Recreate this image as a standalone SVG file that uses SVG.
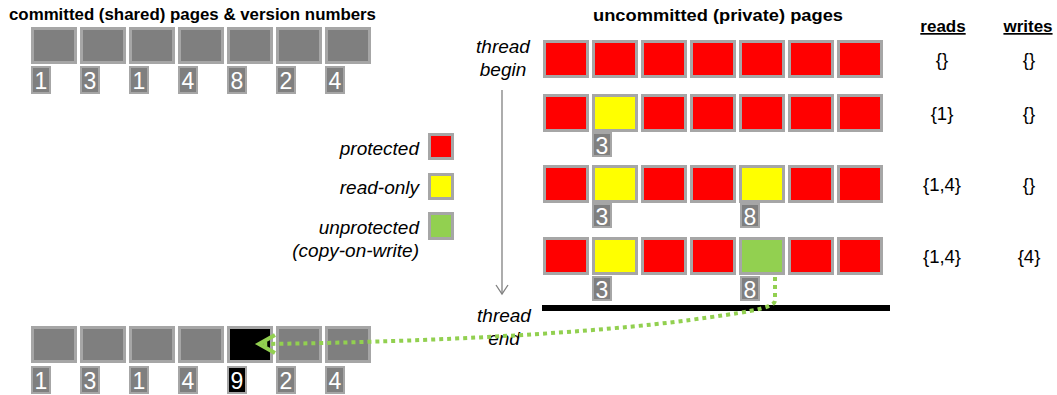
<svg xmlns="http://www.w3.org/2000/svg" width="1057" height="395" viewBox="0 0 1057 395">
<style>
.pg{stroke:#a6a6a6;stroke-width:3}
.gy{fill:#7f7f7f}.rd{fill:#ff0000}.yl{fill:#ffff00}.gn{fill:#92d050}.bk{fill:#000}
.tag{stroke:#a6a6a6;stroke-width:2}
.num{font-family:"Liberation Sans",Arial,sans-serif;font-size:23px;fill:#fff;text-anchor:middle}
.ttl{font-family:"Liberation Sans",Arial,sans-serif;font-weight:bold;font-size:17px;fill:#000}
.it{font-family:"Liberation Sans",Arial,sans-serif;font-style:italic;font-size:19px;fill:#000}
.set{font-family:"Liberation Sans",Arial,sans-serif;font-size:18.5px;fill:#000;text-anchor:middle}
</style>
<rect width="1057" height="395" fill="#fff"/>

<g id="titles">
<text class="ttl" x="9" y="20" textLength="367" lengthAdjust="spacingAndGlyphs">committed (shared) pages &amp; version numbers</text>
<text class="ttl" x="593" y="21" textLength="250" lengthAdjust="spacingAndGlyphs">uncommitted (private) pages</text>
<text class="ttl" x="943" y="32" text-anchor="middle" text-decoration="underline">reads</text>
<text class="ttl" x="1028" y="32" text-anchor="middle" text-decoration="underline">writes</text>
</g>

<g id="committed-before">
<rect class="pg gy" x="32.5" y="28.5" width="43" height="34"/>
<rect class="pg gy" x="81.5" y="28.5" width="43" height="34"/>
<rect class="pg gy" x="130.5" y="28.5" width="43" height="34"/>
<rect class="pg gy" x="179.5" y="28.5" width="43" height="34"/>
<rect class="pg gy" x="228.5" y="28.5" width="43" height="34"/>
<rect class="pg gy" x="277.5" y="28.5" width="43" height="34"/>
<rect class="pg gy" x="326.5" y="28.5" width="43" height="34"/>
<rect class="tag gy" x="32" y="67" width="18" height="26"/>
<rect class="tag gy" x="81" y="67" width="18" height="26"/>
<rect class="tag gy" x="130" y="67" width="18" height="26"/>
<rect class="tag gy" x="179" y="67" width="18" height="26"/>
<rect class="tag gy" x="228" y="67" width="18" height="26"/>
<rect class="tag gy" x="277" y="67" width="18" height="26"/>
<rect class="tag gy" x="326" y="67" width="18" height="26"/>
<text class="num" x="41" y="89">1</text>
<text class="num" x="90" y="89">3</text>
<text class="num" x="139" y="89">1</text>
<text class="num" x="188" y="89">4</text>
<text class="num" x="237" y="89">8</text>
<text class="num" x="286" y="89">2</text>
<text class="num" x="335" y="89">4</text>
</g>

<g id="committed-after">
<rect class="pg gy" x="32.5" y="327.5" width="43" height="34"/>
<rect class="pg gy" x="81.5" y="327.5" width="43" height="34"/>
<rect class="pg gy" x="130.5" y="327.5" width="43" height="34"/>
<rect class="pg gy" x="179.5" y="327.5" width="43" height="34"/>
<rect class="pg bk" x="228.5" y="327.5" width="43" height="34"/>
<rect class="pg gy" x="277.5" y="327.5" width="43" height="34"/>
<rect class="pg gy" x="326.5" y="327.5" width="43" height="34"/>
<rect class="tag gy" x="32" y="367" width="18" height="26"/>
<rect class="tag gy" x="81" y="367" width="18" height="26"/>
<rect class="tag gy" x="130" y="367" width="18" height="26"/>
<rect class="tag gy" x="179" y="367" width="18" height="26"/>
<rect class="tag bk" x="228" y="367" width="18" height="26"/>
<rect class="tag gy" x="277" y="367" width="18" height="26"/>
<rect class="tag gy" x="326" y="367" width="18" height="26"/>
<text class="num" x="41" y="389">1</text>
<text class="num" x="90" y="389">3</text>
<text class="num" x="139" y="389">1</text>
<text class="num" x="188" y="389">4</text>
<text class="num" x="237" y="389">9</text>
<text class="num" x="286" y="389">2</text>
<text class="num" x="335" y="389">4</text>
</g>

<g id="row1">
<rect class="pg rd" x="544.5" y="41.5" width="43" height="35"/>
<rect class="pg rd" x="593.5" y="41.5" width="43" height="35"/>
<rect class="pg rd" x="642.5" y="41.5" width="43" height="35"/>
<rect class="pg rd" x="691.5" y="41.5" width="43" height="35"/>
<rect class="pg rd" x="740.5" y="41.5" width="43" height="35"/>
<rect class="pg rd" x="789.5" y="41.5" width="43" height="35"/>
<rect class="pg rd" x="838.5" y="41.5" width="43" height="35"/>
<text class="set" x="942" y="66">{}</text>
<text class="set" x="1029" y="66">{}</text>
</g>

<g id="row2">
<rect class="pg rd" x="544.5" y="95.5" width="43" height="35"/>
<rect class="pg yl" x="593.5" y="95.5" width="43" height="35"/>
<rect class="pg rd" x="642.5" y="95.5" width="43" height="35"/>
<rect class="pg rd" x="691.5" y="95.5" width="43" height="35"/>
<rect class="pg rd" x="740.5" y="95.5" width="43" height="35"/>
<rect class="pg rd" x="789.5" y="95.5" width="43" height="35"/>
<rect class="pg rd" x="838.5" y="95.5" width="43" height="35"/>
<rect class="tag gy" x="593" y="133" width="18" height="23"/>
<text class="num" x="602" y="154">3</text>
<text class="set" x="942" y="120">{1}</text>
<text class="set" x="1029" y="120">{}</text>
</g>

<g id="row3">
<rect class="pg rd" x="544.5" y="166.5" width="43" height="35"/>
<rect class="pg yl" x="593.5" y="166.5" width="43" height="35"/>
<rect class="pg rd" x="642.5" y="166.5" width="43" height="35"/>
<rect class="pg rd" x="691.5" y="166.5" width="43" height="35"/>
<rect class="pg yl" x="740.5" y="166.5" width="43" height="35"/>
<rect class="pg rd" x="789.5" y="166.5" width="43" height="35"/>
<rect class="pg rd" x="838.5" y="166.5" width="43" height="35"/>
<rect class="tag gy" x="593" y="204" width="18" height="23"/>
<rect class="tag gy" x="741" y="204" width="18" height="23"/>
<text class="num" x="602" y="225">3</text>
<text class="num" x="750" y="225">8</text>
<text class="set" x="942" y="191">{1,4}</text>
<text class="set" x="1029" y="191">{}</text>
</g>

<g id="row4">
<rect class="pg rd" x="544.5" y="238.5" width="43" height="35"/>
<rect class="pg yl" x="593.5" y="238.5" width="43" height="35"/>
<rect class="pg rd" x="642.5" y="238.5" width="43" height="35"/>
<rect class="pg rd" x="691.5" y="238.5" width="43" height="35"/>
<rect class="pg gn" x="740.5" y="238.5" width="43" height="35"/>
<rect class="pg rd" x="789.5" y="238.5" width="43" height="35"/>
<rect class="pg rd" x="838.5" y="238.5" width="43" height="35"/>
<rect class="tag gy" x="593" y="277" width="18" height="23"/>
<rect class="tag gy" x="741" y="277" width="18" height="23"/>
<text class="num" x="602" y="298">3</text>
<text class="num" x="750" y="298">8</text>
<text class="set" x="942" y="263">{1,4}</text>
<text class="set" x="1029" y="263">{4}</text>
</g>

<g id="legend">
<text class="it" x="419" y="155" text-anchor="end">protected</text>
<text class="it" x="419" y="194" text-anchor="end">read-only</text>
<text class="it" x="419" y="234" text-anchor="end">unprotected</text>
<text class="it" x="419" y="257" text-anchor="end">(copy-on-write)</text>
<rect class="pg rd" x="429.5" y="134.5" width="23" height="24"/>
<rect class="pg yl" x="429.5" y="174.5" width="23" height="24"/>
<rect class="pg gn" x="429.5" y="213.5" width="23" height="25"/>
</g>

<g id="thread-labels">
<text class="it" x="503" y="53" text-anchor="middle">thread</text>
<text class="it" x="503" y="76" text-anchor="middle">begin</text>
<text class="it" x="504" y="322" text-anchor="middle">thread</text>
<text class="it" x="504" y="345" text-anchor="middle">end</text>
</g>

<g id="connectors">
<line x1="502" y1="90" x2="502" y2="294" stroke="#808080" stroke-width="1.3"/>
<polyline points="496,285 502,294 508,285" fill="none" stroke="#808080" stroke-width="1.3"/>
<line x1="542" y1="308" x2="890" y2="308" stroke="#000" stroke-width="6"/>
<path d="M775 277 V301 C773 309 740 313 690 320 C600 332 440 342 262 344" fill="none" stroke="#92d050" stroke-width="4" stroke-dasharray="4 4"/>
<polyline points="275,335 259,344 275,353" fill="none" stroke="#92d050" stroke-width="4"/>
</g>
</svg>
